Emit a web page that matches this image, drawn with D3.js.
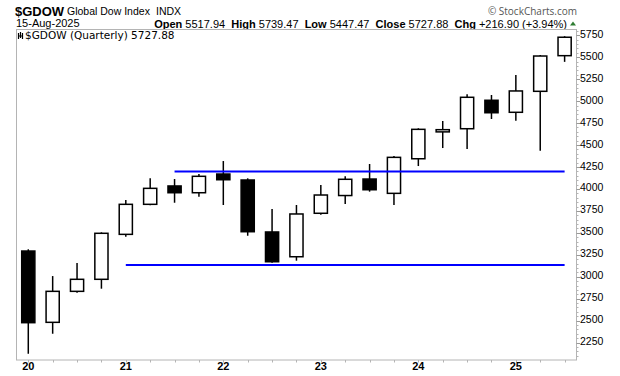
<!DOCTYPE html>
<html><head><meta charset="utf-8">
<script src="https://cdn.jsdelivr.net/npm/d3@7"></script>
<style>
html,body{margin:0;padding:0;background:#fff;}
svg{display:block;}
</style></head>
<body>
<svg id="chart" width="620" height="376"></svg>
<script>
// ---- data ----
const quarters = ["2020Q1","2020Q2","2020Q3","2020Q4","2021Q1","2021Q2","2021Q3","2021Q4",
  "2022Q1","2022Q2","2022Q3","2022Q4","2023Q1","2023Q2","2023Q3","2023Q4",
  "2024Q1","2024Q2","2024Q3","2024Q4","2025Q1","2025Q2","2025Q3"];
const opens  = [3293,2481,2834,2971,3483,3825,4034,3957,4170,4102,3510,3228,3723,3925,4113,3950,4344,4650,4686,5010,4873,5112,5517.94];
const highs  = [3313,3008,3156,3506,3874,4121,4113,4170,4318,4121,3772,3817,4045,4145,4284,4375,4691,4774,5078,5070,5298,5525,5739.47];
const lows   = [2123,2351,2818,2864,3456,3814,3843,3912,3817,3467,3160,3183,3707,3829,3969,3817,4261,4466,4455,4797,4777,4436,5447.47];
const closes = [2477,2834,2971,3495,3825,4007,3957,4144,4105,3513,3171,3715,3931,4110,3991,4360,4679,4675,5044,4868,5116,5514,5727.88];
const yTickValues = [2250,2500,2750,3000,3250,3500,3750,4000,4250,4500,4750,5000,5250,5500,5750];
const xLabelQuarters = ["2020Q1","2021Q1","2022Q1","2023Q1","2024Q1","2025Q1"];
const xLabels = ["20","21","22","23","24","25"];
const trendLevels = [4200, 3135];
const trendStarts = ["2021Q3","2021Q1"];
const trendEnd = "2025Q3";

const svg = d3.select("#chart");
const L = 16.5, R = 576.5, T = 29.5, B = 360;

const x = d3.scaleBand().domain(quarters).range([16.1, 576.8]).paddingInner(0.46).paddingOuter(0.23);
const y = d3.scaleLinear().domain([2052, 5816]).range([B, T]);
const cx = q => x(q) + x.bandwidth()/2;

// ---- header ----
const hdr = svg.append("g").attr("font-family","'Liberation Sans', Arial, sans-serif").attr("fill","#000");
hdr.append("text").attr("x",15).attr("y",15.5).attr("font-size",13).attr("font-weight","bold").text("$GDOW");
hdr.append("text").attr("x",67).attr("y",15).attr("font-size",10.5).text("Global Dow Index");
hdr.append("text").attr("x",156).attr("y",15).attr("font-size",10.5).text("INDX");
hdr.append("text").attr("x",16).attr("y",27).attr("font-size",11).text("15-Aug-2025");
const st = hdr.append("text").attr("x",567).attr("y",27.5).attr("font-size",11).attr("text-anchor","end");
const parts = [["Open",true],[" 5517.94  ",false],["High",true],[" 5739.47  ",false],["Low",true],[" 5447.47  ",false],["Close",true],[" 5727.88  ",false],["Chg",true],[" +216.90 (+3.94%)",false]];
parts.forEach(p => st.append("tspan").attr("font-weight", p[1] ? "bold" : "normal").attr("xml:space","preserve").style("white-space","pre").text(p[0]));
svg.append("path").attr("d","M570,25.5 L573,21.5 L576,25.5 Z").attr("fill","#2e7d32");
svg.append("text").attr("x",577).attr("y",15).attr("text-anchor","end").attr("font-size",10)
  .attr("font-family","'Open Sans','DejaVu Sans',sans-serif").attr("fill","#555").text("\u00A9 StockCharts.com");

// ---- frame ----
svg.append("rect").attr("x",L).attr("y",T).attr("width",R-L).attr("height",B-T)
  .attr("fill","none").attr("stroke","#b4b4b4").attr("stroke-width",1);

// legend
const lg = svg.append("g");
lg.append("path").attr("d","M18.5,33 V39 M20.5,32 V38 M22.5,33 V39 M18.5,36 H22.5").attr("stroke","#000").attr("stroke-width",1.2).attr("fill","none");
lg.append("text").attr("x",25).attr("y",39).attr("font-size",10.5).attr("font-family","'DejaVu Sans',Verdana,sans-serif").text("$GDOW (Quarterly) 5727.88");

// ---- y axis (right) ----
const minor = d3.range(2100, 5801, 50);
svg.append("g").selectAll("line").data(minor).join("line")
  .attr("x1",R).attr("x2",R+2).attr("y1",d=>Math.round(y(d))+0.5).attr("y2",d=>Math.round(y(d))+0.5)
  .attr("stroke","#b4b4b4");
const ya = svg.append("g");
ya.selectAll("line").data(yTickValues).join("line")
  .attr("x1",R).attr("x2",R+3.5).attr("y1",d=>Math.round(y(d))+0.5).attr("y2",d=>Math.round(y(d))+0.5)
  .attr("stroke","#999");
ya.selectAll("text").data(yTickValues).join("text")
  .attr("x",580).attr("y",d=>y(d)+2.5).attr("font-size",10.5)
  .attr("font-family","'Liberation Sans', Arial, sans-serif").text(d=>d);

// ---- x axis ----
const xa = svg.append("g");
xa.selectAll("line").data(quarters).join("line")
  .attr("x1",d=>Math.round(cx(d))+0.5).attr("x2",d=>Math.round(cx(d))+0.5).attr("y1",B).attr("y2",B+2.5)
  .attr("stroke","#b4b4b4");
xa.selectAll("text").data(xLabelQuarters).join("text")
  .attr("x",d=>cx(d)).attr("y",370).attr("text-anchor","middle").attr("font-size",11).attr("font-weight","bold")
  .attr("font-family","'Liberation Sans Narrow','Liberation Sans', Arial, sans-serif")
  .text((d,i)=>xLabels[i]);

// ---- candles ----
const data = quarters.map((q,i)=>({q, o:opens[i], h:highs[i], l:lows[i], c:closes[i]}));
const cg = svg.append("g");
cg.selectAll("line").data(data).join("line")
  .attr("x1",d=>cx(d.q)).attr("x2",d=>cx(d.q)).attr("y1",d=>y(d.h)).attr("y2",d=>y(d.l))
  .attr("stroke","#000").attr("stroke-width",1.5);
cg.selectAll("rect").data(data).join("rect")
  .attr("x",d=>x(d.q)).attr("width",x.bandwidth())
  .attr("y",d=>y(Math.max(d.o,d.c))).attr("height",d=>Math.max(1, Math.abs(y(d.o)-y(d.c))))
  .attr("fill",d=>d.c>=d.o ? "#fff" : "#000").attr("stroke","#000").attr("stroke-width",1.5);

// ---- trend lines ----
svg.append("g").selectAll("line").data(trendLevels).join("line")
  .attr("x1",(d,i)=>cx(trendStarts[i])).attr("x2",cx(trendEnd))
  .attr("y1",d=>y(d)).attr("y2",d=>y(d))
  .attr("stroke","#0000ff").attr("stroke-width",2);
</script>
</body></html>
